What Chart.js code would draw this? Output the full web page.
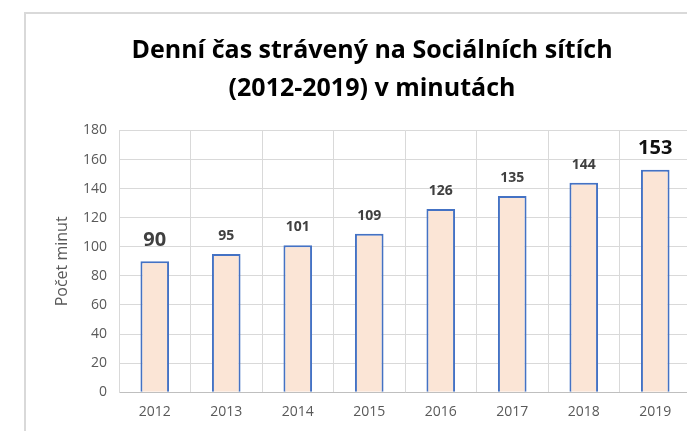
<!DOCTYPE html>
<html lang="cs">
<head>
<meta charset="UTF-8">
<title>Denní čas strávený na Sociálních sítích</title>
<script src="https://cdn.jsdelivr.net/npm/chart.js"></script>
<style>
    html, body {
        margin: 0;
        padding: 0;
        background: #ffffff;
        overflow: hidden;
        width: 687px;
        height: 431px;
    }
    .ramecek {
        position: absolute;
        left: 24px;
        top: 12px;
        width: 720px;
        height: 440px;
        border-left: 2px solid #d9d9d9;
        border-top: 2px solid #d9d9d9;
    }
    .graf {
        position: absolute;
        left: 0;
        top: 0;
        width: 720px;
        height: 431px;
    }
</style>
</head>
<body>
<div class="ramecek"></div>
<div class="graf"><canvas id="graf"></canvas></div>

<script>
// data z grafu
var roky = ['2012', '2013', '2014', '2015', '2016', '2017', '2018', '2019'];
var minuty = [90, 95, 101, 109, 126, 135, 144, 153];
var osaY = [0, 20, 40, 60, 80, 100, 120, 140, 160, 180];

// velikost a barva popisku nad sloupci (prvni a posledni jsou vetsi)
var velikostPopisku = [20, 14, 14, 14, 14, 14, 14, 20];
var barvaPopisku = ['#404040', '#404040', '#404040', '#404040', '#404040', '#404040', '#404040', '#111111'];

var pismo = "'Open Sans', 'Liberation Sans', sans-serif";

// vlastni plugin na hodnoty nad sloupci
var popisky = {
    id: 'popisky',
    afterDatasetsDraw: function(chart) {
        var ctx = chart.ctx;
        var meta = chart.getDatasetMeta(0);
        ctx.save();
        ctx.textAlign = 'center';
        ctx.textBaseline = 'bottom';
        meta.data.forEach(function(bar, i) {
            ctx.font = 'bold ' + velikostPopisku[i] + 'px ' + pismo;
            ctx.fillStyle = barvaPopisku[i];
            ctx.fillText(String(minuty[i]), bar.x, bar.y - 11);
        });
        ctx.restore();
    }
};

var ctx = document.getElementById('graf').getContext('2d');
new Chart(ctx, {
    type: 'bar',
    data: {
        labels: roky,
        datasets: [{
            data: minuty,
            backgroundColor: '#fbe5d6',
            borderColor: '#4472c4',
            borderWidth: 2,
            categoryPercentage: 1,
            barPercentage: 0.4
        }]
    },
    options: {
        responsive: true,
        maintainAspectRatio: false,
        animation: false,
        layout: {
            padding: { left: 53, right: 29, top: 0, bottom: 0 }
        },
        plugins: {
            legend: { display: false },
            tooltip: { enabled: false },
            title: {
                display: true,
                text: ['Denní čas strávený na Sociálních sítích', '(2012-2019) v minutách'],
                color: '#000000',
                font: { family: pismo, size: 25, weight: 'bold', lineHeight: 1.55 },
                padding: { top: 31, bottom: 22 }
            }
        },
        scales: {
            x: {
                grid: { color: '#d9d9d9', lineWidth: 1, offset: true, drawTicks: false },
                border: { color: '#bfbfbf', width: 1 },
                ticks: { color: '#595959', font: { family: pismo, size: 14 }, padding: 11 }
            },
            y: {
                min: 0,
                max: 180,
                afterBuildTicks: function(scale) {
                    scale.ticks = osaY.map(function(v) { return { value: v }; });
                },
                afterFit: function(scale) {
                    scale.width = 119 - 53;
                },
                grid: { color: '#d9d9d9', lineWidth: 1, drawTicks: false },
                border: { color: '#d9d9d9' },
                ticks: { color: '#595959', font: { family: pismo, size: 14 }, padding: 12 },
                title: {
                    display: true,
                    text: 'Počet minut',
                    color: '#595959',
                    font: { family: pismo, size: 16 },
                    padding: 0
                }
            }
        }
    },
    plugins: [popisky]
});
</script>
</body>
</html>
